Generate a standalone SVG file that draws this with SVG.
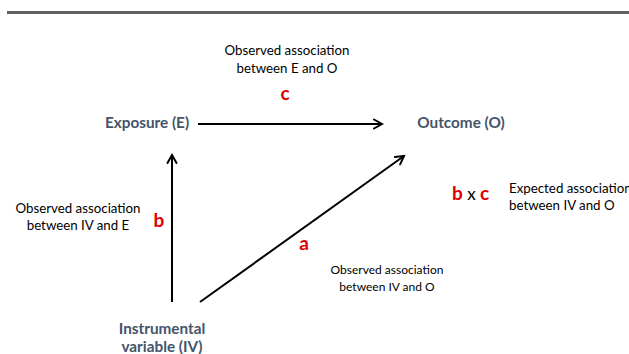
<svg xmlns="http://www.w3.org/2000/svg" width="629" height="354" viewBox="0 0 629 354">
<defs>
<marker id="arr" viewBox="0 0 12 12" refX="10" refY="6" markerWidth="12" markerHeight="12" markerUnits="userSpaceOnUse" orient="auto">
<path d="M2,1.5 L10,6 L2,10.5" fill="none" stroke="#000" stroke-width="2" stroke-linecap="round" stroke-linejoin="miter"/>
</marker>
<style>
.node{font-family:Lato,"Liberation Sans",sans-serif;font-weight:bold;font-size:15.3px;fill:#44546A;text-anchor:middle}
.lbl{font-family:Lato,"Liberation Sans",sans-serif;font-size:13.3px;fill:#000}
.sm{font-size:12px}
.red{font-family:Lato,"Liberation Sans",sans-serif;font-weight:bold;font-size:19px;fill:#E00000}
.edge{stroke:#000;stroke-width:2;fill:none;marker-end:url(#arr)}
</style>
</defs>
<rect x="7" y="11" width="622" height="3" fill="#606060"/>
<g id="connectors">
<line class="edge" x1="198" y1="124" x2="382" y2="124"/>
<line class="edge" x1="172" y1="302" x2="172" y2="155"/>
<line class="edge" x1="200" y1="302" x2="404" y2="156"/>
</g>
<g id="exposure"><text class="node" x="147" y="128">Exposure (E)</text></g>
<g id="outcome"><text class="node" x="461" y="128">Outcome (O)</text></g>
<g id="iv"><text class="node" x="162" y="334">Instrumental</text><text class="node" x="162" y="352">variable (IV)</text></g>
<g id="label-c">
<text class="lbl" x="287" y="55" text-anchor="middle">Observed association</text>
<text class="lbl" x="287" y="73" text-anchor="middle">between E and O</text>
<text class="red" x="285" y="100" text-anchor="middle">c</text>
</g>
<g id="label-b">
<text class="lbl" x="78" y="213" text-anchor="middle">Observed association</text>
<text class="lbl" x="78" y="230" text-anchor="middle">between IV and E</text>
<text class="red" x="159" y="227" text-anchor="middle">b</text>
</g>
<g id="label-a">
<text class="red" x="304" y="250" text-anchor="middle">a</text>
<text class="lbl sm" x="387" y="274" text-anchor="middle">Observed association</text>
<text class="lbl sm" x="387" y="291" text-anchor="middle">between IV and O</text>
</g>
<g id="label-bxc">
<text x="452" y="200" font-family="Lato,'Liberation Sans',sans-serif" font-size="19px"><tspan fill="#E00000" font-weight="bold">b</tspan><tspan fill="#000" font-size="17px"> x </tspan><tspan fill="#E00000" font-weight="bold">c</tspan></text>
<text class="lbl" x="509" y="193">Expected association</text>
<text class="lbl" x="509" y="210">between IV and O</text>
</g>
</svg>
